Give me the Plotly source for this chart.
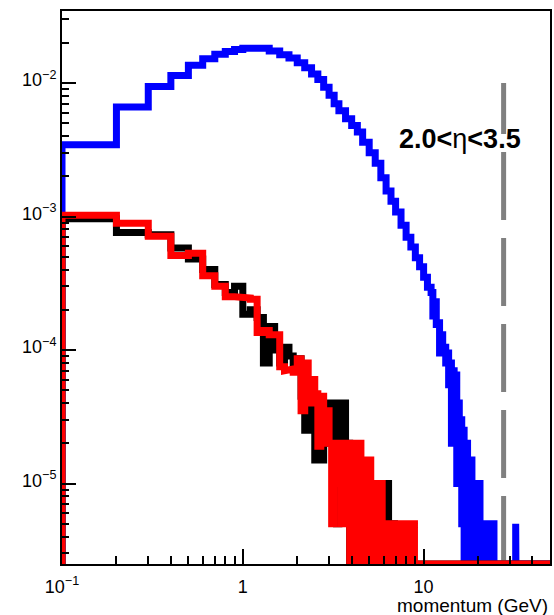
import plotly.graph_objects as go

# ---------------- axis limits ----------------
X_MIN, X_MAX = 0.1, 50.0
Y_LOG_MIN, Y_LOG_MAX = -5.603, -1.4607

# ---------------- blue histogram ----------------
blue_edges = [0.1, 0.2, 0.3, 0.4, 0.5, 0.6, 0.7, 0.8, 0.9, 1.0,
              1.2, 1.4, 1.6, 1.8, 2.0, 2.2, 2.4, 2.6, 2.8, 3.0,
              3.2, 3.4, 3.7, 4.0, 4.3, 4.6, 5.0, 5.4, 5.8, 6.2,
              6.6, 7.0, 7.5, 8.0, 8.5, 9.0, 9.5, 10.0, 10.5, 11.0,
              11.25, 11.5, 11.75, 12.0, 12.25, 12.5, 12.75, 13.0, 13.25, 13.5,
              13.75, 14.0, 14.25, 14.5, 14.75, 15.0, 15.25, 15.5, 15.75, 16.0,
              16.25, 16.5, 16.75, 17.0, 17.5, 18.0, 18.5, 19.0, 19.5, 20.0,
              20.5, 21.0, 21.5, 22.0, 22.5, 23.0, 23.5, 24.0, 24.5, 32.3,
              32.4, 50.0]
blue_values = [3.45e-3, 6.6e-3, 9.4e-3, 1.14e-2, 1.36e-2, 1.52e-2, 1.64e-2, 1.72e-2, 1.78e-2,
               1.82e-2, 1.82e-2, 1.74e-2, 1.63e-2, 1.54e-2, 1.42e-2, 1.3e-2, 1.17e-2, 1.06e-2, 9.3e-3,
               8.1e-3, 7.0e-3, 6.2e-3, 5.4e-3, 4.8e-3, 4.3e-3, 3.6e-3, 3.0e-3, 2.5e-3, 1.95e-3,
               1.55e-3, 1.3e-3, 1.08e-3, 8.6e-4, 7.0e-4, 5.9e-4, 4.9e-4, 4.2e-4, 3.5e-4, 2.95e-4,
               2.7e-4, 1.8e-4, 2.3e-4, 1.55e-4, 1.6e-4, 9.5e-5, 1.3e-4, 9.5e-5, 1.05e-4, 8.0e-5,
               9.5e-5, 5.5e-5, 8.0e-5, 2.0e-5, 7.0e-5, 2.5e-5, 6.5e-5, 1.0e-5, 4.0e-5, 1.0e-5,
               3.0e-5, 5e-6, 2.5e-5, 0, 2.0e-5, 0, 1.5e-5, 0, 1.0e-5, 0,
               1.0e-5, 0, 5e-6, 0, 5e-6, 0, 5e-6, 0, 5e-6, 0,
               5e-6, 0]

# ---------------- black histogram ----------------
black_edges = [0.1, 0.2, 0.3, 0.4, 0.5, 0.6, 0.7, 0.8, 0.9, 1.0,
               1.1, 1.2, 1.3, 1.4, 1.5, 1.6, 1.7, 1.8, 1.9, 2.0,
               2.1, 2.2, 2.3, 2.4, 2.5, 2.6, 2.7, 2.8, 2.9, 3.0,
               3.1, 3.2, 3.3, 3.4, 3.5, 3.6, 3.7, 3.8, 3.9, 4.0,
               4.1, 4.2, 4.3, 4.4, 4.5, 4.7, 4.9, 5.1, 5.4, 5.8,
               6.0, 6.2, 6.4, 6.6, 6.9, 50.0]
black_values = [9.6e-4, 7.6e-4, 7.3e-4, 5.8e-4, 4.8e-4, 4.0e-4, 3.1e-4, 2.7e-4, 3.0e-4, 1.85e-4,
                2.0e-4, 1.75e-4, 8.0e-5, 1.5e-4, 1.0e-4, 8.0e-5, 1.05e-4, 9.0e-5, 7.5e-5, 8.6e-5,
                4.5e-5, 2.5e-5, 5.0e-5, 3.0e-5, 1.5e-5, 4.0e-5, 1.5e-5, 3.0e-5, 2.0e-5, 4.0e-5,
                2.0e-5, 4.0e-5, 5e-6, 4.0e-5, 2.0e-5, 4.0e-5, 1.0e-5, 2.0e-5, 0, 1.0e-5,
                1.5e-5, 0, 1.0e-5, 0, 1.0e-5, 5e-6, 0, 5e-6, 0, 1.0e-5,
                5e-6, 1.0e-5, 0, 5e-6, 0]

# ---------------- red histogram ----------------
red_edges = [0.1, 0.2, 0.3, 0.4, 0.5, 0.6, 0.7, 0.8, 0.9, 1.0,
             1.1, 1.2, 1.3, 1.4, 1.5, 1.6, 1.7, 1.8, 1.9, 2.0,
             2.1, 2.2, 2.3, 2.4, 2.5, 2.6, 2.7, 2.8, 2.9, 3.0,
             3.1, 3.2, 3.3, 3.4, 3.5, 3.6, 3.7, 3.8, 3.9, 4.0,
             4.1, 4.2, 4.3, 4.4, 4.5, 4.6, 4.8, 5.0, 5.1, 5.3,
             5.5, 5.7, 5.9, 6.1, 6.4, 6.7, 7.0, 7.3, 7.6, 7.9,
             8.2, 8.5, 8.9, 50.0]
red_values = [1.02e-3, 8.9e-4, 7.1e-4, 5.1e-4, 5.3e-4, 3.6e-4, 3.0e-4, 2.5e-4, 2.5e-4, 2.45e-4,
              2.4e-4, 1.35e-4, 1.4e-4, 1.3e-4, 1.3e-4, 7.5e-5, 7.0e-5, 7.2e-5, 6.8e-5, 8.6e-5,
              3.5e-5, 8.0e-5, 4.0e-5, 6.0e-5, 4.7e-5, 1.9e-5, 4.5e-5, 2.0e-5, 3.5e-5, 2.0e-5,
              5e-6, 2.0e-5, 1.0e-5, 2.0e-5, 5e-6, 1.5e-5, 5e-6, 2.0e-5, 0, 2.0e-5,
              0, 1.5e-5, 0, 2.0e-5, 0, 1.5e-5, 0, 1.5e-5, 0, 1.0e-5,
              0, 1.0e-5, 0, 5e-6, 0, 5e-6, 0, 5e-6, 0, 5e-6,
              0, 5e-6, 0]

# ---------------- cut line and label ----------------
cut_x = [27.7, 27.7]
cut_y = [10 ** Y_LOG_MIN, 1.0e-2]
label_text = "<b>2.0&lt;</b>η<b>&lt;3.5</b>"

y_tick_vals = [1e-5, 1e-4, 1e-3, 1e-2]
y_tick_text = ["10<sup>−5</sup>", "10<sup>−4</sup>", "10<sup>−3</sup>", "10<sup>−2</sup>"]
x_tick_vals = [0.1, 1, 10]
x_tick_text = ["10<sup>−1</sup>", "1", "10"]

assert len(blue_edges) == len(blue_values) + 1
assert len(black_edges) == len(black_values) + 1
assert len(red_edges) == len(red_values) + 1


def step_path(edges, values):
    base = 10 ** Y_LOG_MIN
    xs, ys = [edges[0]], [base]
    for i, v in enumerate(values):
        y = v if v > 0 else base
        xs += [edges[i], edges[i + 1]]
        ys += [y, y]
    return xs, ys


def minor_vals(decades):
    out = []
    for d in decades:
        for m in range(2, 10):
            out.append(m * 10 ** d)
    return out


FONT = "Liberation Sans, Arial, Helvetica, sans-serif"
LW = 7

fig = go.Figure()
bx, by = step_path(blue_edges, blue_values)
fig.add_trace(go.Scatter(x=bx, y=by, mode="lines", line=dict(color="#0000ff", width=LW), hoverinfo="skip"))
fig.add_trace(go.Scatter(x=cut_x, y=cut_y, mode="lines",
                         line=dict(color="#808080", width=5, dash="68px,18px"), hoverinfo="skip"))
kx, ky = step_path(black_edges, black_values)
fig.add_trace(go.Scatter(x=kx, y=ky, mode="lines", line=dict(color="#000000", width=LW), hoverinfo="skip"))
rx, ry = step_path(red_edges, red_values)
fig.add_trace(go.Scatter(x=rx, y=ry, mode="lines", line=dict(color="#ff0000", width=LW), hoverinfo="skip"))

fig.add_annotation(text=label_text, xref="paper", yref="paper", x=0.816, y=0.7685,
                   xanchor="center", yanchor="middle", showarrow=False,
                   font=dict(family=FONT, size=27, color="black"))
fig.add_annotation(text="momentum (GeV)", xref="paper", yref="paper", x=1.0, y=-0.0745,
                   xanchor="right", yanchor="middle", showarrow=False,
                   font=dict(family=FONT, size=19, color="black"))

fig.update_xaxes(type="log", range=[-1, 1.69897], tickmode="array",
                 tickvals=x_tick_vals, ticktext=x_tick_text,
                 ticks="inside", ticklen=15, tickwidth=2, tickcolor="black",
                 ticklabelstandoff=5,
                 minor=dict(ticks="inside", tickmode="array", tickvals=minor_vals([-1, 0, 1]),
                            ticklen=8, tickwidth=2, tickcolor="black"),
                 showline=True, linewidth=2, linecolor="black", mirror=True,
                 showgrid=False, zeroline=False,
                 tickfont=dict(family=FONT, size=18, color="black"))
fig.update_yaxes(type="log", range=[Y_LOG_MIN, Y_LOG_MAX], tickmode="array",
                 tickvals=y_tick_vals, ticktext=y_tick_text,
                 ticks="inside", ticklen=14, tickwidth=2, tickcolor="black",
                 ticklabelshift=-3,
                 minor=dict(ticks="inside", tickmode="array", tickvals=minor_vals([-6, -5, -4, -3, -2]),
                            ticklen=7, tickwidth=2, tickcolor="black"),
                 showline=True, linewidth=2, linecolor="black", mirror=True,
                 showgrid=False, zeroline=False,
                 tickfont=dict(family=FONT, size=18, color="black"))

fig.update_layout(width=554, height=615, margin=dict(l=62, r=2, t=11, b=51),
                  plot_bgcolor="white", paper_bgcolor="white", showlegend=False,
                  font=dict(family=FONT, size=18, color="black"))

fig.write_html("out.html")
